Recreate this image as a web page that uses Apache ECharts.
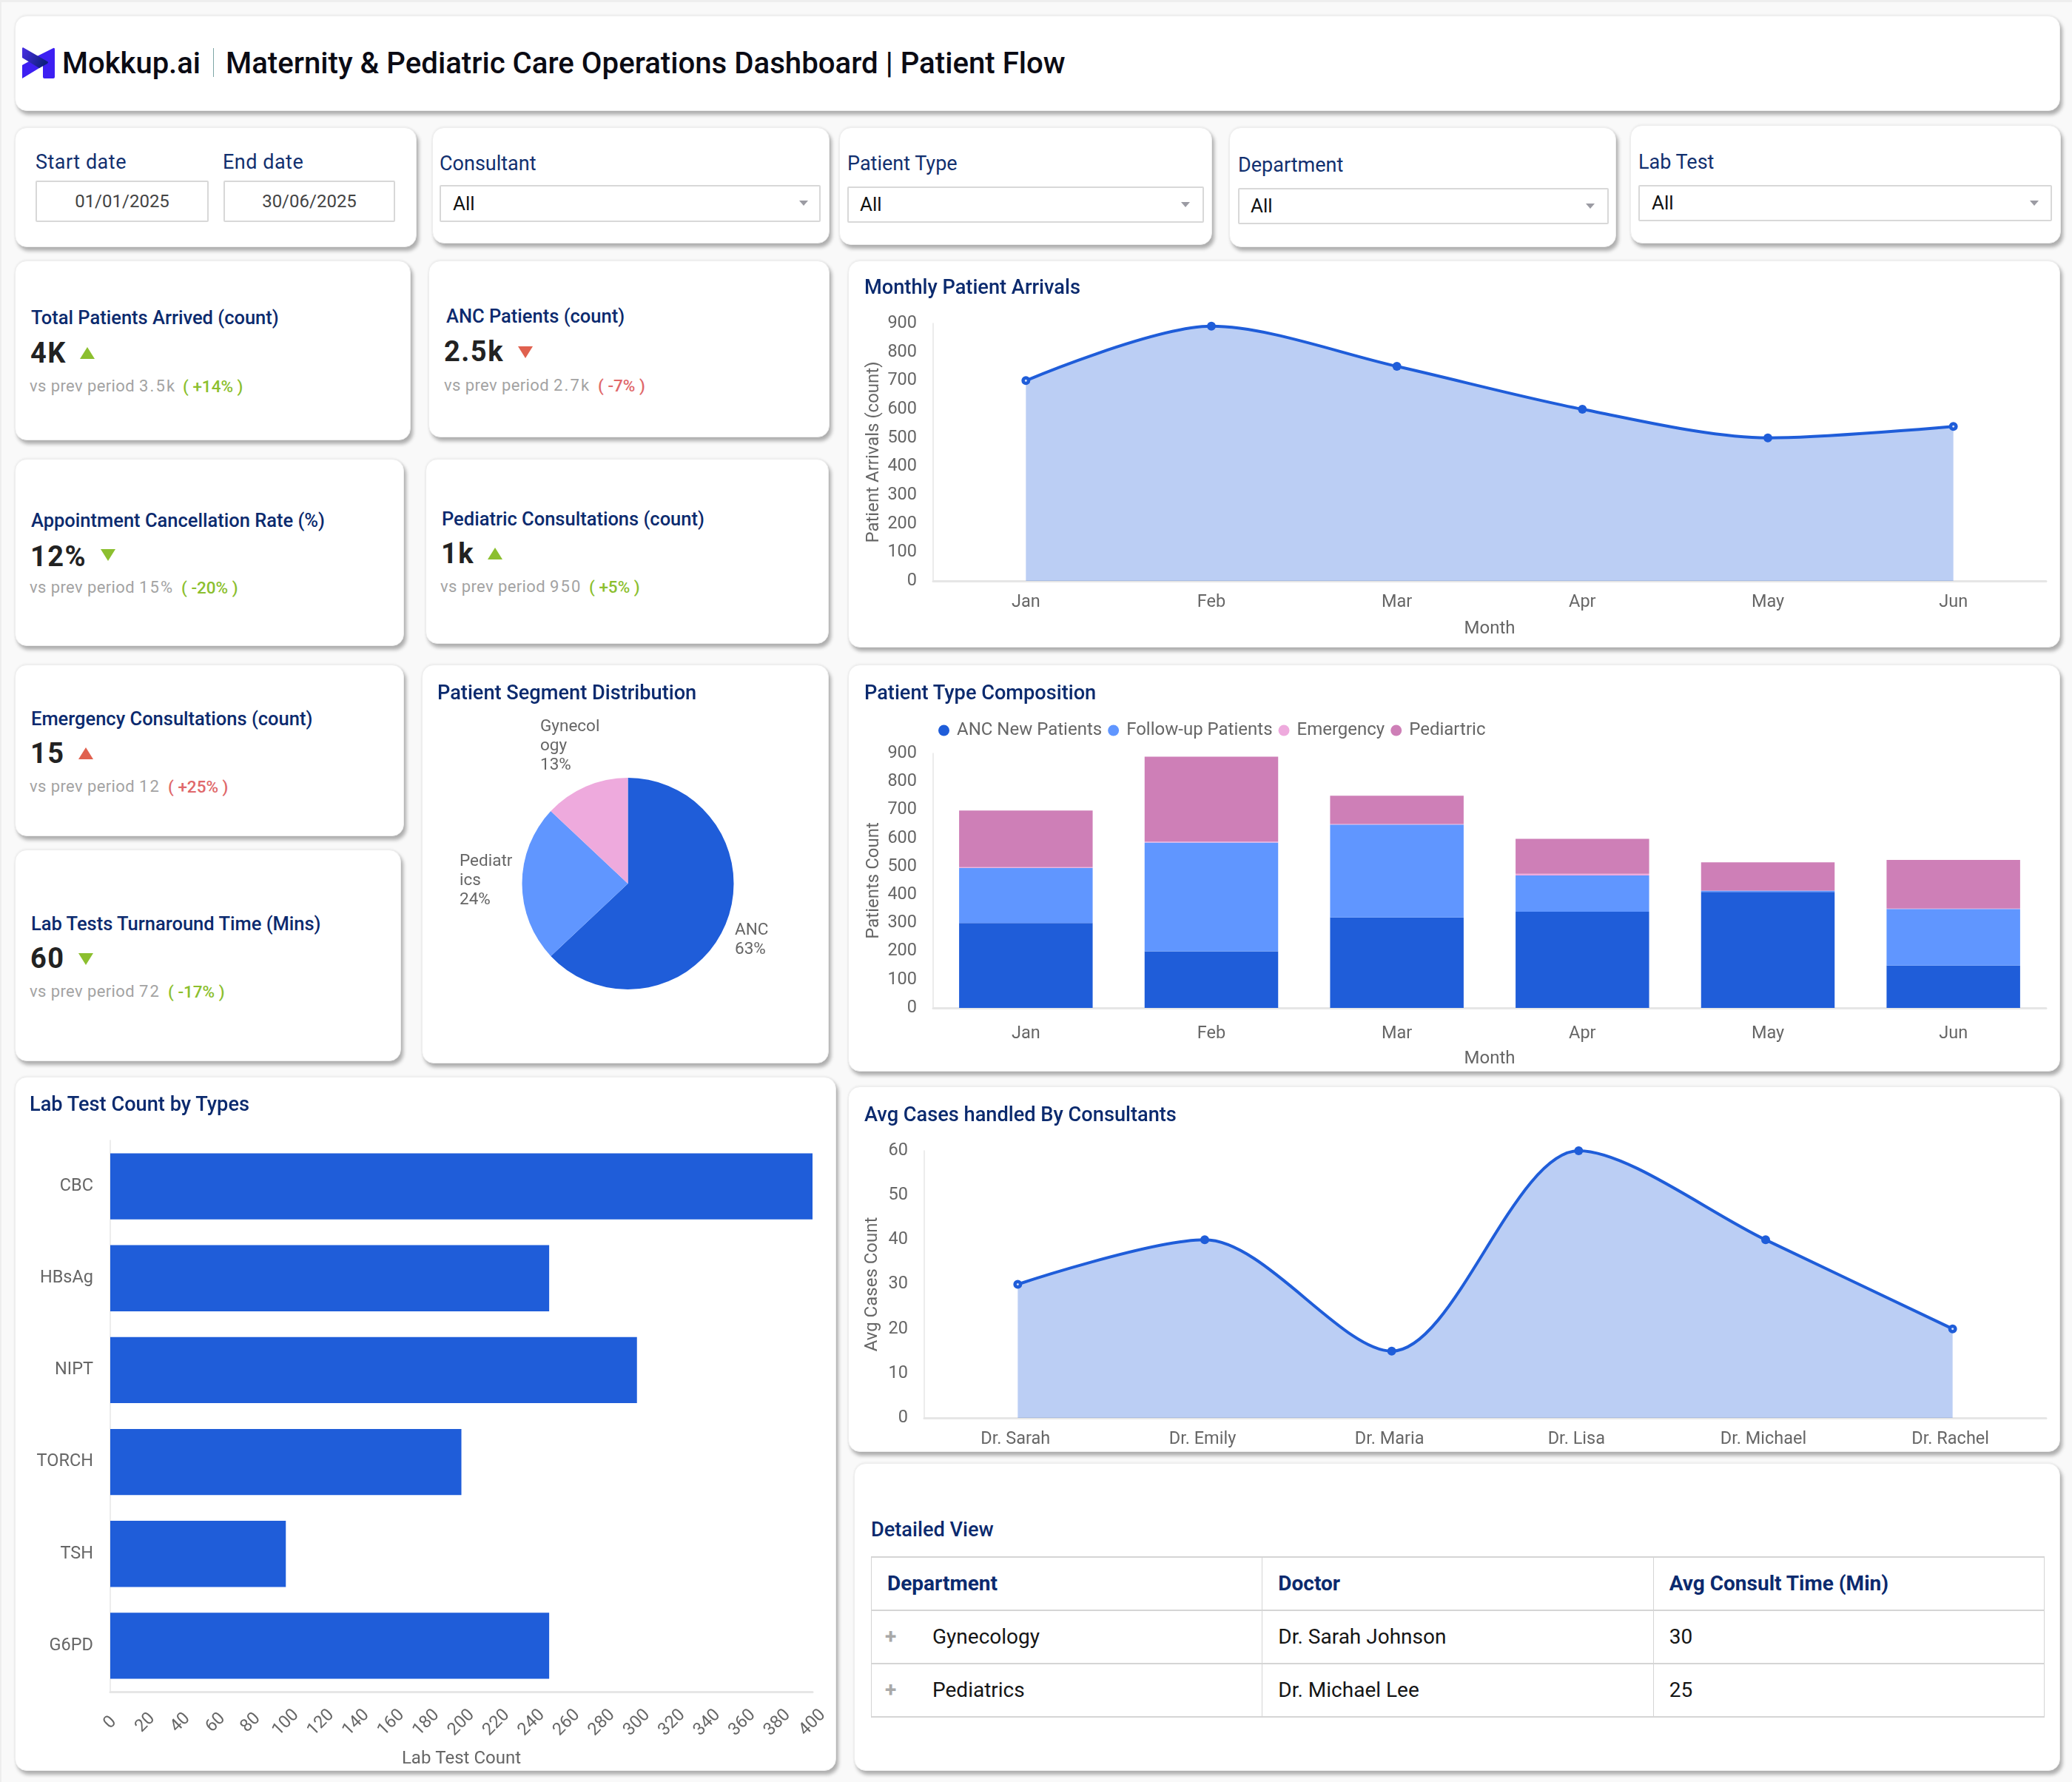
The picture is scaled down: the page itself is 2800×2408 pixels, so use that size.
<!DOCTYPE html>
<html>
<head>
<meta charset="utf-8">
<title>Maternity & Pediatric Care Operations Dashboard</title>
<script src="https://cdn.jsdelivr.net/npm/echarts@6/dist/echarts.min.js"></script>
<style>
html,body{margin:0;padding:0;background:#f9f9f9;}
body{position:relative;width:2800px;height:2408px;overflow:hidden;font-family:Roboto,sans-serif;box-shadow:inset 2px 3px 0 #eeeeee;}
.card{position:absolute;background:#fff;border-radius:16px;box-sizing:border-box;border:1px solid #eeeeee;box-shadow:3px 5px 5px rgba(0,0,0,.3),0 -1px 3px rgba(0,0,0,.06);}
.chart{position:absolute;}
.t{position:absolute;white-space:nowrap;transform:translateY(-50%);line-height:1.2;}
.head{font-weight:500;font-size:40.2px;color:#0b0b14;}
.lbl{font-size:27px;color:#12306f;}
.dl{letter-spacing:.5px;}
.box{position:absolute;box-sizing:border-box;border:2px solid #d8d8d8;border-radius:2px;background:#fff;}
.date{text-align:center;font-size:24px;color:#444;}
.all{font-size:26px;color:#111;}
.arr{position:absolute;width:0;height:0;border-left:6px solid transparent;border-right:6px solid transparent;border-top:7px solid #9b9ba3;}
.ttl{font-weight:500;font-size:27.2px;color:#0b2a6e;}
.kt{font-weight:500;font-size:25.5px;color:#0b2a6e;}
.kv{font-weight:700;font-size:38px;color:#222;letter-spacing:1.5px;}
.kp{font-size:22px;color:#a3a3a3;letter-spacing:.4px;}
.kp span{letter-spacing:2.2px;}
.g{font-size:22.5px;color:#8cbf2f;font-weight:500;}
.r{font-size:22.5px;color:#e0686a;font-weight:500;}
.up,.dn{position:absolute;width:0;height:0;border-left:10px solid transparent;border-right:10px solid transparent;}
.up{border-bottom:16px solid;}
.dn{border-top:16px solid;}
.gc{border-bottom-color:#8cbf2f;border-top-color:#8cbf2f;}
.rc{border-bottom-color:#e0614f;border-top-color:#e0614f;}
table{position:absolute;left:1177px;top:2103px;width:1586px;height:218px;border-collapse:collapse;table-layout:fixed;font-size:28px;color:#151515;}
td,th{border:1px solid #d5d5d5;border-top:2px solid #d5d5d5;border-bottom:2px solid #d5d5d5;padding:0 0 2px 21px;text-align:left;height:72px;box-sizing:border-box;}
th{color:#0b2a6e;font-weight:700;}
.plus{display:inline-block;width:36px;margin-left:-3px;margin-right:28px;color:#a9a9a9;font-weight:700;font-size:28px;}
</style>
</head>
<body>

<!-- header -->
<div class="card" style="left:20px;top:21px;width:2764px;height:129px"></div>
<svg style="position:absolute;left:30px;top:64px" width="44" height="42" viewBox="0 0 44 42">
  <defs><linearGradient id="lg" x1="0" x2="1" y1="0" y2="0.4"><stop offset="0" stop-color="#4a2fe6"/><stop offset="1" stop-color="#0f1f80"/></linearGradient></defs>
  <path d="M0 24 L20 13 L35 20 L23 28 L0 42 Z" fill="#3d1ff2"/>
  <path d="M20 12 L42 1 Q44 0 44 3 L44 40 Q44 42 42 42 L30 42 Q28 42 28 40 L28 22 Z" fill="#3d1ff2"/>
  <path d="M1 0 L34 19 Q36 20 34 22 L23 28 L0 14 L0 1 Z" fill="url(#lg)"/>
</svg>
<div class="t" style="left:84px;top:86px;font-size:40px;font-weight:500;color:#0b0b14">Mokkup.ai</div>
<div style="position:absolute;left:288px;top:65px;width:1px;height:39px;background:#7ea6a6"></div>
<div class="t head" style="left:305px;top:86px">Maternity &amp; Pediatric Care Operations Dashboard | Patient Flow</div>

<!-- filters -->
<div class="card" style="left:20px;top:172px;width:543px;height:162px"></div>
<div class="t lbl dl" style="left:48px;top:219px">Start date</div>
<div class="t lbl dl" style="left:301px;top:219px">End date</div>
<div class="box date" style="left:48px;top:244px;width:234px;height:56px;line-height:52px">01/01/2025</div>
<div class="box date" style="left:302px;top:244px;width:232px;height:56px;line-height:52px">30/06/2025</div>

<div class="card" style="left:584px;top:172px;width:537px;height:157px"></div>
<div class="t lbl" style="left:594px;top:221px">Consultant</div>
<div class="box" style="left:594px;top:250px;width:515px;height:50px"></div>
<div class="t all" style="left:612px;top:276px">All</div>
<div class="arr" style="left:1080px;top:271px"></div>

<div class="card" style="left:1134px;top:172px;width:504px;height:159px"></div>
<div class="t lbl" style="left:1145px;top:221px">Patient Type</div>
<div class="box" style="left:1145px;top:252px;width:482px;height:49px"></div>
<div class="t all" style="left:1162px;top:277px">All</div>
<div class="arr" style="left:1596px;top:273px"></div>

<div class="card" style="left:1661px;top:172px;width:523px;height:162px"></div>
<div class="t lbl" style="left:1673px;top:223px">Department</div>
<div class="box" style="left:1673px;top:254px;width:501px;height:49px"></div>
<div class="t all" style="left:1690px;top:279px">All</div>
<div class="arr" style="left:2143px;top:275px"></div>

<div class="card" style="left:2203px;top:169px;width:582px;height:160px"></div>
<div class="t lbl" style="left:2214px;top:219px">Lab Test</div>
<div class="box" style="left:2214px;top:250px;width:559px;height:49px"></div>
<div class="t all" style="left:2232px;top:275px">All</div>
<div class="arr" style="left:2743px;top:271px"></div>

<!-- kpi cards -->
<div class="card" style="left:20px;top:352px;width:535px;height:243px"></div>
<div class="t kt" style="left:42px;top:429px">Total Patients Arrived (count)</div>
<div class="t kv" style="left:41px;top:478px">4K</div>
<div class="up gc" style="left:108px;top:469px"></div>
<div class="t kp" style="left:40px;top:522px">vs prev period <span>3.5k</span></div>
<div class="t g" style="left:247px;top:522px">( +14% )</div>

<div class="card" style="left:579px;top:352px;width:542px;height:239px"></div>
<div class="t kt" style="left:603px;top:427px">ANC Patients (count)</div>
<div class="t kv" style="left:600px;top:476px">2.5k</div>
<div class="dn rc" style="left:700px;top:468px"></div>
<div class="t kp" style="left:600px;top:521px">vs prev period <span>2.7k</span></div>
<div class="t r" style="left:808px;top:521px">( -7% )</div>

<div class="card" style="left:20px;top:620px;width:526px;height:253px"></div>
<div class="t kt" style="left:42px;top:703px">Appointment Cancellation Rate (%)</div>
<div class="t kv" style="left:41px;top:753px">12%</div>
<div class="dn gc" style="left:136px;top:742px"></div>
<div class="t kp" style="left:40px;top:794px">vs prev period <span>15%</span></div>
<div class="t g" style="left:245px;top:794px">( -20% )</div>

<div class="card" style="left:575px;top:620px;width:545px;height:250px"></div>
<div class="t kt" style="left:597px;top:701px">Pediatric Consultations (count)</div>
<div class="t kv" style="left:596px;top:749px">1k</div>
<div class="up gc" style="left:659px;top:740px"></div>
<div class="t kp" style="left:595px;top:793px">vs prev period <span>950</span></div>
<div class="t g" style="left:796px;top:793px">( +5% )</div>

<div class="card" style="left:20px;top:898px;width:526px;height:232px"></div>
<div class="t kt" style="left:42px;top:971px">Emergency Consultations (count)</div>
<div class="t kv" style="left:41px;top:1019px">15</div>
<div class="up rc" style="left:106px;top:1010px"></div>
<div class="t kp" style="left:40px;top:1063px">vs prev period <span>12</span></div>
<div class="t r" style="left:227px;top:1063px">( +25% )</div>

<div class="card" style="left:20px;top:1148px;width:522px;height:286px"></div>
<div class="t kt" style="left:42px;top:1248px">Lab Tests Turnaround Time (Mins)</div>
<div class="t kv" style="left:41px;top:1296px">60</div>
<div class="dn gc" style="left:106px;top:1288px"></div>
<div class="t kp" style="left:40px;top:1340px">vs prev period <span>72</span></div>
<div class="t g" style="left:227px;top:1340px">( -17% )</div>

<!-- chart cards -->
<div class="card" style="left:1146px;top:352px;width:1638px;height:523px"></div>
<div class="chart" id="arrivals" style="left:1146px;top:352px;width:1638px;height:523px"></div>
<div class="t ttl" style="left:1168px;top:388px">Monthly Patient Arrivals</div>

<div class="card" style="left:570px;top:898px;width:550px;height:539px"></div>
<div class="chart" id="segments" style="left:570px;top:898px;width:550px;height:539px"></div>
<div class="t ttl" style="left:591px;top:936px">Patient Segment Distribution</div>

<div class="card" style="left:1146px;top:898px;width:1638px;height:550px"></div>
<div class="chart" id="composition" style="left:1146px;top:898px;width:1638px;height:550px"></div>
<div class="t ttl" style="left:1168px;top:936px">Patient Type Composition</div>

<div class="card" style="left:20px;top:1455px;width:1110px;height:938px"></div>
<div class="chart" id="labtests" style="left:20px;top:1455px;width:1110px;height:938px"></div>
<div class="t ttl" style="left:40px;top:1492px">Lab Test Count by Types</div>

<div class="card" style="left:1146px;top:1468px;width:1638px;height:494px"></div>
<div class="chart" id="consultants" style="left:1146px;top:1468px;width:1638px;height:494px"></div>
<div class="t ttl" style="left:1168px;top:1506px">Avg Cases handled By Consultants</div>

<!-- detailed view -->
<div class="card" style="left:1154px;top:1977px;width:1630px;height:416px"></div>
<div class="t ttl" style="left:1177px;top:2067px">Detailed View</div>
<table>
  <tr><th>Department</th><th>Doctor</th><th>Avg Consult Time (Min)</th></tr>
  <tr><td><span class="plus">+</span>Gynecology</td><td>Dr. Sarah Johnson</td><td>30</td></tr>
  <tr><td><span class="plus">+</span>Pediatrics</td><td>Dr. Michael Lee</td><td>25</td></tr>
</table>

<script>
// data
var months = ['Jan', 'Feb', 'Mar', 'Apr', 'May', 'Jun'];
var arrivals = [700, 890, 750, 600, 500, 540];

var ancNew = [300, 200, 320, 340, 410, 150];
var followUp = [195, 385, 328, 128, 5, 200];
var emergency = [3, 3, 2, 6, 0, 1];
var pediatric = [200, 300, 100, 124, 100, 172];

var segmentNames = ['ANC', 'Pediatrics', 'Gynecology'];
var segmentValues = [63, 24, 13];

var labTests = ['CBC', 'HBsAg', 'NIPT', 'TORCH', 'TSH', 'G6PD'];
var labCounts = [400, 250, 300, 200, 100, 250];

var consultants = ['Dr. Sarah', 'Dr. Emily', 'Dr. Maria', 'Dr. Lisa', 'Dr. Michael', 'Dr. Rachel'];
var avgCases = [30, 40, 15, 60, 40, 20];

var BLUE = '#1f5dd9', LIGHT = '#6096ff', PINK = '#eeaadd', MAUVE = '#ce7fb7';
var FONT = 'Roboto, sans-serif';
var TXT = '#666666', AXIS = '#e6e6e6';

function catAxis(cats, name, margin, nameGap) {
    return {
        type: 'category', data: cats, name: name, nameLocation: 'middle', nameGap: nameGap,
        nameTextStyle: {color: TXT, fontSize: 24, fontFamily: FONT},
        axisTick: {show: false},
        axisLine: {lineStyle: {color: AXIS, width: 3}},
        axisLabel: {color: TXT, fontSize: 23.5, fontFamily: FONT, margin: margin, interval: 0}
    };
}
function valAxis(name, max, step, nameGap) {
    return {
        type: 'value', min: 0, max: max, interval: step, name: name, nameLocation: 'middle', nameGap: nameGap,
        nameMoveOverlap: false,
        nameTextStyle: {color: TXT, fontSize: 24, fontFamily: FONT},
        splitLine: {show: false}, axisTick: {show: false},
        axisLine: {show: true, lineStyle: {color: AXIS, width: 1.5}},
        axisLabel: {color: TXT, fontSize: 23.5, fontFamily: FONT, margin: 22}
    };
}
function areaSeries(values) {
    return {
        type: 'line', smooth: 0.3, symbol: 'circle', symbolSize: 12,
        // the two end points read as rings in the reference
        data: values.map(function (v, i) {
            if (i > 0 && i < values.length - 1) return v;
            return {value: v, symbolSize: 7.5, itemStyle: {color: '#d8e3f9', borderColor: BLUE, borderWidth: 4.5}};
        }),
        lineStyle: {color: BLUE, width: 4}, itemStyle: {color: BLUE},
        areaStyle: {color: BLUE, opacity: 0.3}
    };
}

// Monthly Patient Arrivals
echarts.init(document.getElementById('arrivals')).setOption({
    animation: false,
    grid: {left: 115, top: 85, width: 1504, height: 348, outerBoundsMode: 'none'},
    xAxis: catAxis(months, 'Month', 17, 53),
    yAxis: valAxis('Patient Arrivals (count)', 900, 100, 68),
    series: [areaSeries(arrivals)]
});

// Patient Segment Distribution
var segmentColors = [BLUE, LIGHT, PINK];
var labelWidth = [80, 73, 86];
var labelPos = [[423, 372], [51, 292], [160, 110]];
echarts.init(document.getElementById('segments')).setOption({
    animation: false,
    series: [{
        type: 'pie', center: [278.5, 296], radius: 143, startAngle: 90,
        labelLine: {show: false},
        labelLayout: function (p) {
            return {x: labelPos[p.dataIndex][0], y: labelPos[p.dataIndex][1], align: 'left', verticalAlign: 'middle'};
        },
        data: segmentNames.map(function (n, i) {
            return {
                name: n, value: segmentValues[i], itemStyle: {color: segmentColors[i]},
                label: {
                    formatter: '{b}\n{d}%', color: TXT, fontSize: 22.5, fontFamily: FONT, lineHeight: 26,
                    width: labelWidth[i], overflow: 'break'
                }
            };
        })
    }]
});

// Patient Type Composition
function stackBar(name, values, color) {
    return {name: name, type: 'bar', stack: 'total', barWidth: '72%', data: values, itemStyle: {color: color}};
}
echarts.init(document.getElementById('composition')).setOption({
    animation: false,
    legend: {
        left: 117, top: 72, icon: 'circle', itemWidth: 15, itemHeight: 15, itemGap: 8,
        textStyle: {color: TXT, fontSize: 24, fontFamily: FONT, padding: [0, 0, 0, 5]}
    },
    grid: {left: 115, top: 120, width: 1504, height: 344, outerBoundsMode: 'none'},
    xAxis: catAxis(months, 'Month', 23, 57),
    yAxis: valAxis('Patients Count', 900, 100, 68),
    series: [
        stackBar('ANC New Patients', ancNew, BLUE),
        stackBar('Follow-up Patients', followUp, LIGHT),
        stackBar('Emergency', emergency, PINK),
        stackBar('Pediartric', pediatric, MAUVE)
    ]
});

// Lab Test Count by Types
var labY = catAxis(labTests, '', 23, 0);
labY.inverse = true;
labY.axisLine = {lineStyle: {color: AXIS, width: 1.5}};
var labX = valAxis('Lab Test Count', 400, 20, 79);
labX.axisLine = {show: true, lineStyle: {color: AXIS, width: 3}};
labX.axisLabel.rotate = 45;
labX.axisLabel.align = 'center';
labX.axisLabel.verticalAlign = 'middle';
labX.axisLabel.margin = 42;
echarts.init(document.getElementById('labtests')).setOption({
    animation: false,
    grid: {left: 129, top: 86, width: 949, height: 745, outerBoundsMode: 'none'},
    xAxis: labX,
    yAxis: labY,
    series: [{type: 'bar', barWidth: '72%', data: labCounts, itemStyle: {color: BLUE}}]
});

// Avg Cases handled By Consultants
var docX = catAxis(consultants, '', 17, 0);
docX.axisLabel.padding = [0, 6, 0, 0];
echarts.init(document.getElementById('consultants')).setOption({
    animation: false,
    grid: {left: 103, top: 87, width: 1516, height: 361, outerBoundsMode: 'none'},
    xAxis: docX,
    yAxis: valAxis('Avg Cases Count', 60, 10, 58),
    series: [areaSeries(avgCases)]
});
</script>
</body>
</html>
